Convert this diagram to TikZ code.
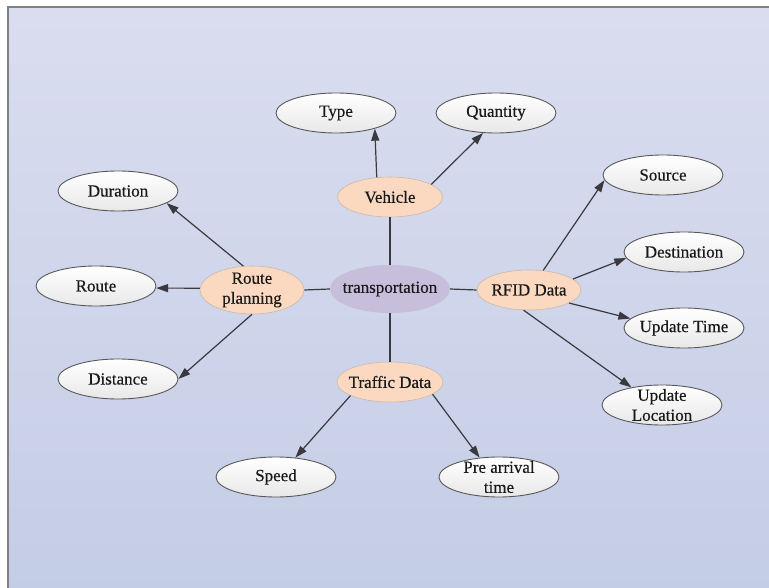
\documentclass[tikz,border=0pt]{standalone}
\usepackage{fontspec}
\setmainfont{Liberation Serif}[FakeBold=0.35]
\newfontfamily\heavy{Liberation Serif}[FakeBold=0.35]
\usetikzlibrary{shapes.geometric,arrows.meta}
\definecolor{bgtop}{RGB}{218,221,239}
\definecolor{bgbot}{RGB}{196,205,230}
\definecolor{peach}{RGB}{250,217,192}
\definecolor{peachedge}{RGB}{205,185,170}
\definecolor{lav}{RGB}{199,190,220}
\definecolor{edgec}{RGB}{58,58,62}
\tikzset{
  txt/.style={font=\heavy\fontsize{17}{20}\selectfont, align=center, text=black!90, inner sep=0pt},
  leaf/.style={ellipse, draw=edgec!85, line width=0.9pt, top color=white, bottom color=black!9, minimum width=120pt, minimum height=40pt, inner sep=0pt},
  mid/.style={ellipse, draw=peachedge, line width=0.6pt, fill=peach, minimum width=105pt, minimum height=40pt, inner sep=0pt},
  hub/.style={ellipse, fill=lav, minimum width=120pt, minimum height=48pt, inner sep=0pt},
  arr/.style={draw=edgec, line width=1.2pt, -{Triangle[length=12pt,width=8pt]}},
  lnk/.style={draw=edgec, line width=1.2pt}
}
\begin{document}
\begin{tikzpicture}[x=1pt,y=-1pt]
\useasboundingbox (0,0) rectangle (769,588);
\clip (0,0) rectangle (769,588);
\fill[white] (0,0) rectangle (769,588);
\shade[top color=bgtop, bottom color=bgbot] (8,7) rectangle (780,600);
\draw[black!50, line width=2pt] (8,600) -- (8,7) -- (780,7);
% hub and mid nodes
\node[hub, label={[txt]center:transportation}] (tr) at (390,289) {};
\node[mid, label={[txt]center:Vehicle}] (veh) at (390,197) {};
\node[mid, minimum width=104pt, minimum height=48pt, label={[txt]center:Route\\planning}] (rp) at (252,290) {};
\node[mid, minimum width=104pt, label={[txt]center:RFID Data}] (rfid) at (529,290) {};
\node[mid, minimum width=106pt, label={[txt]center:Traffic Data}] (traf) at (390,382) {};
% leaves
\node[leaf, label={[txt]center:Type}] (type) at (336,113) {};
\node[leaf, label={[txt]center:Quantity}] (quant) at (496,113) {};
\node[leaf, label={[txt]center:Duration}] (dur) at (118,191) {};
\node[leaf, label={[txt]center:Route}] (route) at (96,286) {};
\node[leaf, label={[txt]center:Distance}] (dist) at (118,379) {};
\node[leaf, label={[txt]center:Source}] (src) at (663,175) {};
\node[leaf, label={[txt]center:Destination}] (dest) at (684,252) {};
\node[leaf, label={[txt]center:Update Time}] (utime) at (684,328) {};
\node[leaf, label={[txt]center:Update\\Location}] (uloc) at (662,405) {};
\node[leaf, label={[txt]center:Speed}] (speed) at (276,477) {};
\node[leaf, label={[txt]center:Pre arrival\\time}] (pre) at (499,477) {};
% hub links
\draw[lnk] (tr.north) -- (veh.south);
\draw[lnk] (tr.west) -- (rp.east);
\draw[lnk] (tr.east) -- (rfid.west);
\draw[lnk] (tr.south) -- (traf.north);
% arrows
\draw[arr] (veh.124) -- (type.-22);
\draw[arr] (veh.17) -- (quant.-123);
\draw[arr] (rp.110) -- (dur.-14);
\draw[arr] (rp.178) -- (route.-2);
\draw[arr] (rp.south) -- (dist.east);
\draw[arr] (rfid.54) -- (src.185);
\draw[arr] (rfid.14) -- (dest.186);
\draw[arr] (rfid.-18) -- (utime.170);
\draw[arr] (rfid.-105) -- (uloc.150);
\draw[arr] (traf.199) -- (speed.45);
\draw[arr] (traf.-16) -- (pre.135);
\end{tikzpicture}
\end{document}
